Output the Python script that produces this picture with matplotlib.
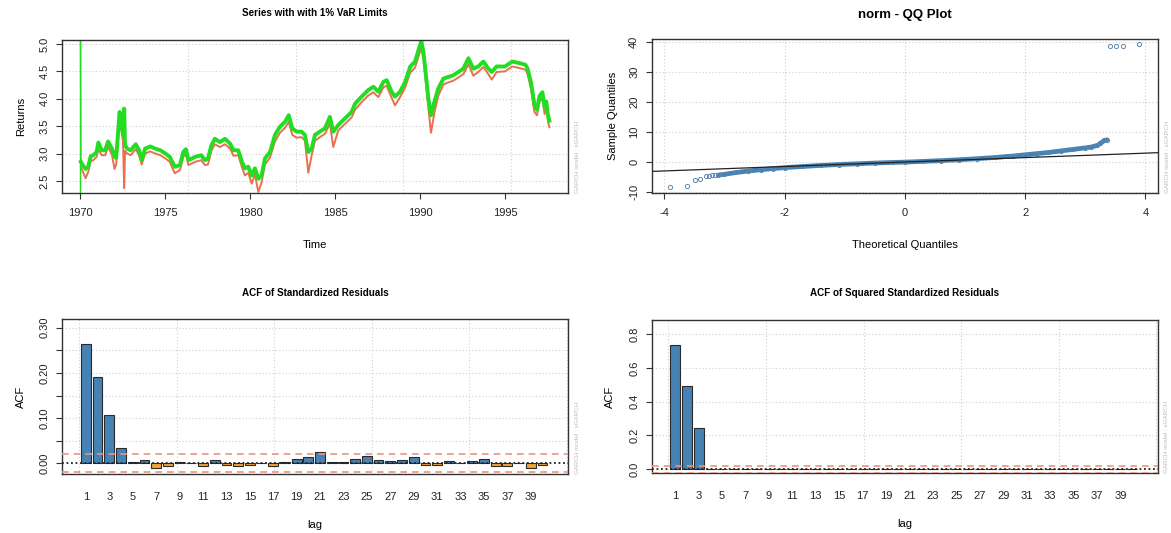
import numpy as np
import matplotlib.pyplot as plt

plt.rcParams['font.family'] = ['Liberation Sans', 'DejaVu Sans']
plt.rcParams['axes.unicode_minus'] = False

# ---- series with 1% VaR limits ----
nan = np.nan
years = [1970.00, 1970.00, 1970.02, 1970.15, 1970.30, 1970.45, 1970.60, 1970.75, 1970.95, 1971.05,
         1971.25, 1971.45, 1971.62, 1971.85, 1972.00, 1972.10, 1972.20, 1972.30, 1972.40, 1972.50,
         1972.57, 1972.62, 1972.75, 1972.95, 1973.25, 1973.45, 1973.60, 1973.80, 1974.10, 1974.40,
         1974.70, 1975.00, 1975.25, 1975.55, 1975.85, 1976.05, 1976.20, 1976.35, 1976.75, 1977.10,
         1977.32, 1977.50, 1977.70, 1977.90, 1978.20, 1978.50, 1978.80, 1979.00, 1979.28, 1979.50,
         1979.67, 1979.87, 1980.07, 1980.26, 1980.46, 1980.65, 1980.85, 1981.15, 1981.44, 1981.73,
         1982.03, 1982.25, 1982.46, 1982.71, 1983.00, 1983.20, 1983.40, 1983.60, 1983.79, 1984.08,
         1984.38, 1984.67, 1984.87, 1985.16, 1985.55, 1985.95, 1986.15, 1986.54, 1986.93, 1987.23,
         1987.52, 1987.82, 1988.01, 1988.30, 1988.50, 1988.80, 1989.10, 1989.40, 1989.68, 1989.97,
         1990.05, 1990.17, 1990.30, 1990.46, 1990.62, 1990.82, 1991.05, 1991.35, 1991.64, 1991.93,
         1992.23, 1992.52, 1992.82, 1993.11, 1993.40, 1993.70, 1993.99, 1994.19, 1994.48, 1994.97,
         1995.40, 1995.85, 1996.18, 1996.30, 1996.50, 1996.70, 1996.85, 1997.00, 1997.17, 1997.30,
         1997.40, 1997.50, 1997.58]
upper_var = [2.0, 5.6, 2.85, 2.78, 2.72, 2.76, 2.95, 2.97, 3.03, 3.20,
             3.06, 3.06, 3.22, 3.09, 2.95, 2.92, 3.34, 3.76, 3.58, 3.34,
             3.82, 3.15, 3.09, 3.06, 3.17, 3.06, 2.88, 3.09, 3.13, 3.09,
             3.06, 3.00, 2.94, 2.76, 2.79, 3.03, 3.08, 2.88, 2.94, 2.97,
             2.88, 2.91, 3.15, 3.27, 3.21, 3.27, 3.18, 3.06, 3.06, 2.85,
             2.73, 2.76, 2.60, 2.73, 2.54, 2.60, 2.91, 3.03, 3.34, 3.49,
             3.58, 3.70, 3.46, 3.40, 3.40, 3.34, 3.03, 3.09, 3.34, 3.40,
             3.46, 3.67, 3.40, 3.52, 3.64, 3.76, 3.91, 4.04, 4.16, 4.22,
             4.13, 4.31, 4.34, 4.13, 4.04, 4.13, 4.31, 4.59, 4.68, 4.98,
             5.05, 4.86, 4.49, 4.01, 3.70, 3.95, 4.19, 4.37, 4.40, 4.43,
             4.49, 4.55, 4.74, 4.55, 4.59, 4.68, 4.55, 4.49, 4.59, 4.59,
             4.68, 4.65, 4.62, 4.55, 4.30, 3.90, 3.80, 4.05, 4.12, 3.85,
             3.95, 3.70, 3.60]
lower_var = [nan, nan, 2.75, 2.66, 2.55, 2.66, 2.86, 2.88, 2.94, 3.08,
             2.97, 2.97, 3.12, 2.98, 2.72, 2.80, 3.22, 3.60, 3.46, 3.22,
             2.37, 3.05, 3.00, 2.97, 3.08, 2.97, 2.80, 3.00, 3.04, 3.00,
             2.97, 2.91, 2.85, 2.64, 2.70, 2.94, 2.99, 2.79, 2.85, 2.88,
             2.79, 2.80, 3.05, 3.17, 3.12, 3.17, 3.09, 2.96, 2.97, 2.75,
             2.60, 2.65, 2.45, 2.62, 2.30, 2.47, 2.80, 2.93, 3.22, 3.38,
             3.47, 3.58, 3.34, 3.29, 3.30, 3.24, 2.65, 2.97, 3.23, 3.30,
             3.36, 3.55, 3.12, 3.42, 3.54, 3.66, 3.80, 3.94, 4.06, 4.12,
             4.03, 4.21, 4.24, 4.02, 3.88, 4.03, 4.21, 4.48, 4.57, 4.86,
             4.92, 4.74, 4.36, 3.84, 3.38, 3.75, 4.06, 4.26, 4.30, 4.33,
             4.39, 4.45, 4.63, 4.42, 4.49, 4.58, 4.45, 4.35, 4.49, 4.50,
             4.59, 4.56, 4.53, 4.45, 4.18, 3.76, 3.70, 3.94, 4.02, 3.72,
             3.84, 3.58, 3.48]

# ---- QQ plot points ----
qq_theory = [-3.91, -3.62, -3.49, -3.41, -3.31, -3.26, -3.20, -3.15,
             -3.10, -3.00, -2.80, -2.60, -2.40, -2.20, -2.00, -1.70, -1.40, -1.10,
             -0.80, -0.50, -0.20, 0.00, 0.30, 0.60, 0.90, 1.20, 1.50, 1.80,
             2.00, 2.20, 2.40, 2.60, 2.80, 3.00, 3.10, 3.20, 3.25,
             3.32, 3.36, 3.42, 3.51, 3.63, 3.90]
qq_sample = [-8.3, -8.0, -5.8, -5.5, -4.6, -4.5, -4.4, -4.3,
             -4.25, -4.00, -3.40, -2.90, -2.50, -2.10, -1.80, -1.40, -1.05, -0.75,
             -0.50, -0.25, -0.05, 0.05, 0.30, 0.55, 0.85, 1.20, 1.60, 2.10,
             2.50, 2.90, 3.30, 3.80, 4.30, 4.80, 5.10, 5.60, 6.30,
             7.30, 7.50, 38.8, 38.8, 38.8, 39.5]
qq_quartiles_theory = [-0.6745, 0.6745]
qq_quartiles_sample = [-0.42, 0.58]

# ---- ACF values ----
lags = list(range(1, 41))
acf_resid = [0.265, 0.191, 0.107, 0.033, 0.004, 0.007, -0.011, -0.007, 0.004, 0.001,
             -0.007, 0.007, -0.003, -0.005, -0.004, 0.0005, -0.005, 0.003, 0.009, 0.013,
             0.026, 0.004, 0.002, 0.010, 0.017, 0.008, 0.005, 0.008, 0.015, -0.003,
             -0.003, 0.006, 0.0005, 0.005, 0.010, -0.007, -0.007, 0.0005, -0.011, -0.004]
acf_sq_resid = [0.737, 0.493, 0.245, 0.003, 0.002, 0.001, 0.002, 0.001, 0.001, 0.002,
                0.001, 0.001, 0.002, 0.001, 0.001, 0.001, 0.002, 0.001, 0.001, 0.001,
                0.001, 0.001, 0.001, 0.001, 0.001, 0.001, 0.001, 0.001, 0.001, 0.001,
                0.001, 0.001, 0.001, 0.001, 0.001, 0.001, 0.001, 0.001, 0.001, 0.001]
conf_lim = 0.02

FRAME = '#333333'
GRID = dict(color='#cfcfcf', linestyle=(0, (1, 2)), linewidth=0.8)
WATERMARK = 'GARCH model : sGARCH'
LBL = 8


def style_axes(ax):
    for s in ax.spines.values():
        s.set_color(FRAME)
        s.set_linewidth(1.0)
    ax.tick_params(axis='both', length=4, width=0.8, color=FRAME, labelsize=LBL,
                   labelcolor='#222222', pad=5)
    ax.tick_params(axis='x', pad=7)
    ax.tick_params(axis='y', labelrotation=90)
    for lab in ax.get_yticklabels():
        lab.set_va('center')
    ax.annotate(WATERMARK, xy=(1, 0), xycoords='axes fraction', xytext=(5, 0),
                textcoords='offset points', rotation=90, ha='left', va='bottom',
                fontsize=4.5, color='#bbbbbb')


fig = plt.figure(figsize=(11.71, 5.33), dpi=100)

# ---------------- top left ----------------
ax1 = fig.add_axes([0.0532, 0.6388, 0.4319, 0.2861])
for g in [1970 + 6.33 * k for k in range(5)]:
    ax1.axvline(g, zorder=0, **GRID)
for h in [2.5, 3.0, 3.5, 4.0, 4.5, 5.0]:
    ax1.axhline(h, zorder=0, **GRID)
ax1.plot(years, lower_var, color='#e8704f', lw=1.4)
ax1.plot(years[:3], upper_var[:3], color='#22dd22', lw=1.0)
ax1.plot(years[2:], upper_var[2:], color='#22dd22', lw=2.8)
ax1.set_xlim(1968.93, 1998.68)
ax1.set_ylim(2.289, 5.073)
ax1.set_xticks([1970, 1975, 1980, 1985, 1990, 1995])
ax1.set_yticks([2.5, 3.0, 3.5, 4.0, 4.5, 5.0])
ax1.set_xlabel('Time', fontsize=LBL, labelpad=16)
ax1.set_ylabel('Returns', fontsize=LBL, labelpad=10)
ax1.set_title('Series with with 1% VaR Limits', fontsize=7.1, fontweight='bold', pad=17)
style_axes(ax1)

# ---------------- top right ----------------
ax2 = fig.add_axes([0.5565, 0.6385, 0.4324, 0.2878])
for g in [-4, -2, 0, 2, 4]:
    ax2.axvline(g, zorder=0, **GRID)
for h in [-10, 0, 10, 20, 30, 40]:
    ax2.axhline(h, zorder=0, **GRID)
qt = np.array(qq_theory)
qs = np.array(qq_sample)
band = (qt >= -3.12) & (qs < 10)
ax2.plot(qt[band], qs[band], color='#4682b4', lw=3.4, solid_capstyle='round', zorder=2)
ax2.plot(qt, qs, 'o', ms=3, mfc='none', mec='#5f88ad', mew=0.7, zorder=3)
slope = (qq_quartiles_sample[1] - qq_quartiles_sample[0]) / (qq_quartiles_theory[1] - qq_quartiles_theory[0])
icpt = qq_quartiles_sample[0] - slope * qq_quartiles_theory[0]
ax2.axline((0, icpt), slope=slope, color='#222222', lw=0.9, zorder=4)
ax2.set_xlim(-4.21, 4.21)
ax2.set_ylim(-10.13, 41.0)
ax2.set_xticks([-4, -2, 0, 2, 4])
ax2.set_yticks([-10, 0, 10, 20, 30, 40])
ax2.set_xlabel('Theoretical Quantiles', fontsize=LBL, labelpad=16)
ax2.set_ylabel('Sample Quantiles', fontsize=LBL, labelpad=8)
ax2.set_title('norm - QQ Plot', fontsize=9.5, fontweight='bold', pad=15)
style_axes(ax2)


def acf_panel(ax, vals, ylim, yticks, ylabels, title):
    pos = [0.7 + 1.2 * (l - 1) for l in lags]
    for g in [0, 10, 20, 30, 40, 50]:
        ax.axvline(g, zorder=0, **GRID)
    for h in yticks[1:]:
        ax.axhline(h, zorder=0, **GRID)
    cols = ['#4682b4' if v >= 0 else '#f5a431' for v in vals]
    ax.bar(pos, vals, width=1.0, color=cols, edgecolor='#2b2b2b', linewidth=0.8, zorder=2)
    ax.axhline(0, color='#222222', linestyle=(0, (1, 1.5)), lw=1.3, zorder=3)
    ax.axhline(conf_lim, color='#e8957f', linestyle=(0, (4, 3)), lw=1.2, zorder=3)
    ax.axhline(-conf_lim, color='#e8957f', linestyle=(0, (4, 3)), lw=1.2, zorder=3)
    ax.set_xlim(-1.72, 50.12)
    ax.set_ylim(*ylim)
    ax.set_xticks(pos[::2])
    ax.set_xticklabels([str(l) for l in lags[::2]])
    ax.set_yticks(yticks)
    ax.set_yticklabels(ylabels)
    ax.set_xlabel('lag', fontsize=LBL, labelpad=13)
    ax.set_ylabel('ACF', fontsize=LBL, labelpad=10)
    ax.set_title(title, fontsize=7.1, fontweight='bold', pad=17)
    style_axes(ax)
    ax.tick_params(axis='x', length=0, pad=13)


ax3 = fig.add_axes([0.0532, 0.1101, 0.4319, 0.2908])
acf_panel(ax3, acf_resid, (-0.0243, 0.3186),
          [0.0, 0.05, 0.10, 0.15, 0.20, 0.25, 0.30],
          ['0.00', '', '0.10', '', '0.20', '', '0.30'],
          'ACF of Standardized Residuals')

ax4 = fig.add_axes([0.5565, 0.1126, 0.4320, 0.2871])
acf_panel(ax4, acf_sq_resid, (-0.022, 0.884),
          [0.0, 0.2, 0.4, 0.6, 0.8],
          ['0.0', '0.2', '0.4', '0.6', '0.8'],
          'ACF of Squared Standardized Residuals')

fig.savefig('out.png', dpi=100, facecolor='white')
